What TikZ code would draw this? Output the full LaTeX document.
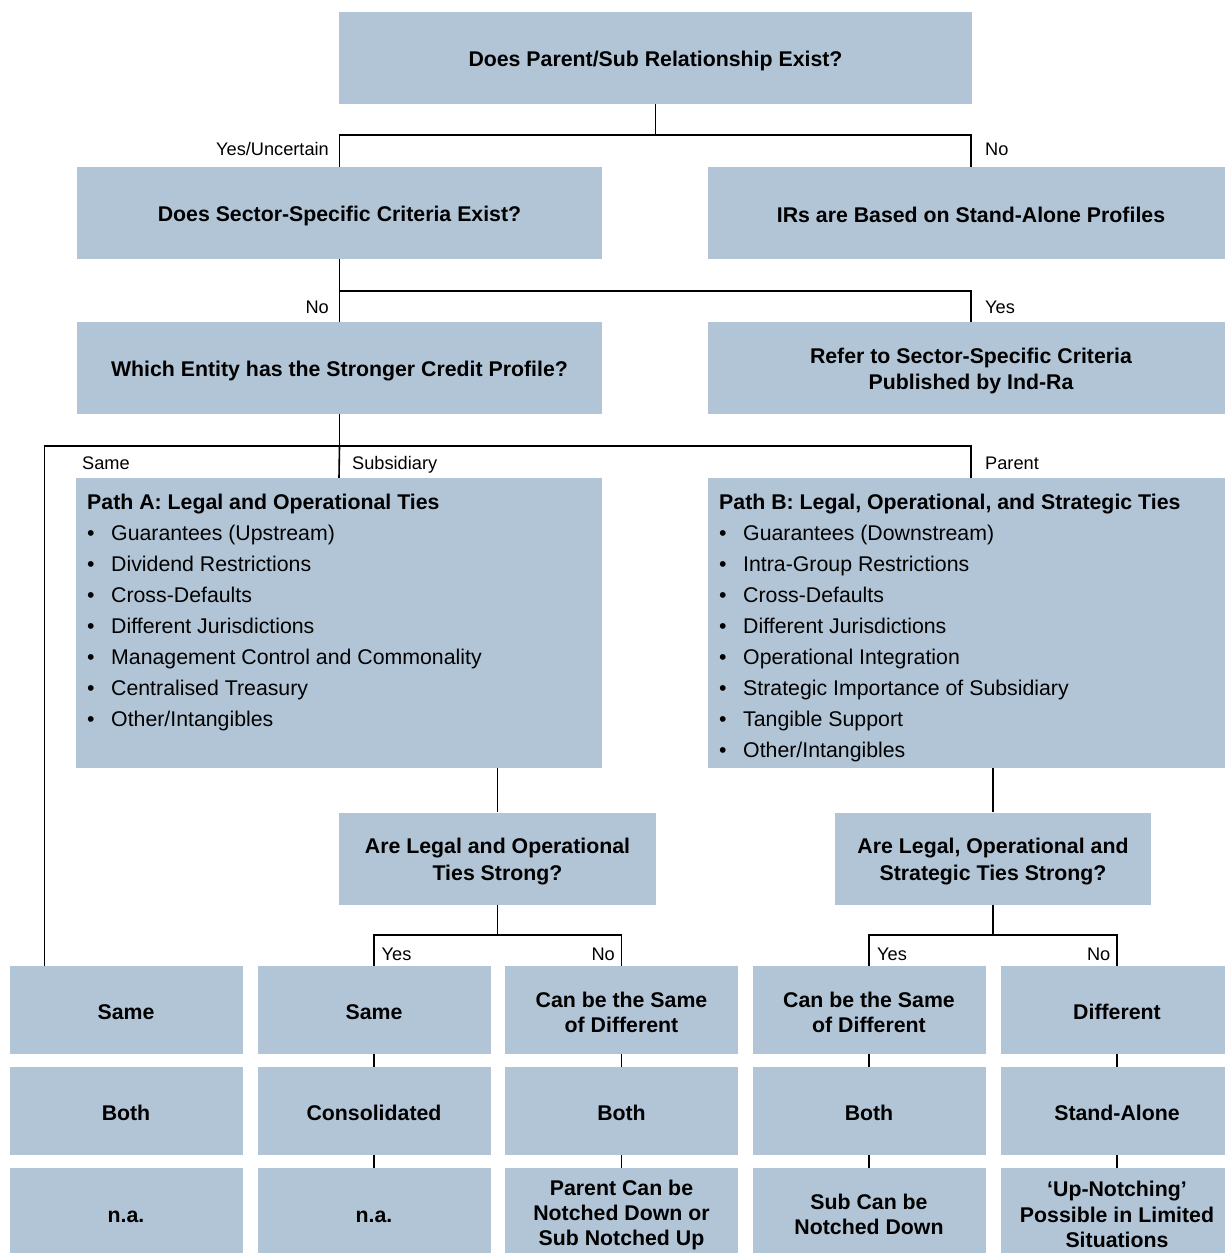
\documentclass[tikz,border=0pt]{standalone}
\usepackage{fontspec}
\setmainfont{Liberation Sans}
\definecolor{boxblue}{RGB}{178,197,214}
\newcommand\sr{\rule[-2pt]{0pt}{23pt}}
\newcommand\itm[1]{\makebox[24pt][l]{•}#1}
\begin{document}
\begin{tikzpicture}[x=1pt,y=-1pt,
  box/.style={rectangle, fill=boxblue, inner sep=0pt, align=center, font=\fontsize{21.3}{25}\selectfont\bfseries},
  lbl/.style={inner sep=0pt, font=\fontsize{18.2}{22}\selectfont},
  conn/.style={draw=black, line width=1.6pt},
  lst/.style={inner sep=0pt, align=left, anchor=north west, font=\fontsize{21.3}{31}\selectfont},
  cell/.style={box, minimum width=233, minimum height=88},
]
\useasboundingbox (0,0) rectangle (1224,1253);

% --- top levels
\node[box, minimum width=633, minimum height=92] (top) at (655.5,58) {\sr Does Parent/Sub Relationship Exist?};
\node[box, minimum width=525, minimum height=92] (sec) at (339.5,213) {\sr Does Sector-Specific Criteria Exist?};
\node[box, minimum width=526, minimum height=92] (irs) at (971,213) {\sr IRs are Based on Stand-Alone Profiles};
\node[box, minimum width=525, minimum height=92] (which) at (339.5,368) {\sr Which Entity has the Stronger Credit Profile?};
\node[box, minimum width=526, minimum height=92] (refer) at (971,368) {\sr Refer to Sector-Specific Criteria\\\sr Published by Ind-Ra};

% --- path boxes
\node[box, minimum width=526, minimum height=290] (pathA) at (339,623) {};
\node[box, minimum width=526, minimum height=290] (pathB) at (971,623) {};
\node[lst] (pathAtext) at (87,493) {\rule{0pt}{16pt}\textbf{Path A: Legal and Operational Ties}\\
  \itm{Guarantees (Upstream)}\\
  \itm{Dividend Restrictions}\\
  \itm{Cross-Defaults}\\
  \itm{Different Jurisdictions}\\
  \itm{Management Control and Commonality}\\
  \itm{Centralised Treasury}\\
  \itm{Other/Intangibles}};
\node[lst] (pathBtext) at (719,493) {\rule{0pt}{16pt}\textbf{Path B: Legal, Operational, and Strategic Ties}\\
  \itm{Guarantees (Downstream)}\\
  \itm{Intra-Group Restrictions}\\
  \itm{Cross-Defaults}\\
  \itm{Different Jurisdictions}\\
  \itm{Operational Integration}\\
  \itm{Strategic Importance of Subsidiary}\\
  \itm{Tangible Support}\\
  \itm{Other/Intangibles}};

% --- question boxes
\node[box, minimum width=317, minimum height=92] (q1) at (497.5,858.5) {\sr Are Legal and Operational\\\sr Ties Strong?};
\node[box, minimum width=316, minimum height=92] (q2) at (993,858.5) {\sr Are Legal, Operational and\\\sr Strategic Ties Strong?};

% --- bottom grid
\node[cell] (c1r1) at (126,1010) {\sr Same};
\node[cell] (c2r1) at (374,1010) {\sr Same};
\node[cell] (c3r1) at (621.5,1010) {\sr Can be the Same\\\sr of Different};
\node[cell] (c4r1) at (869,1010) {\sr Can be the Same\\\sr of Different};
\node[cell] (c5r1) at (1117,1010) {\sr Different};

\node[cell] (c1r2) at (126,1111) {\sr Both};
\node[cell] (c2r2) at (374,1111) {\sr Consolidated};
\node[cell] (c3r2) at (621.5,1111) {\sr Both};
\node[cell] (c4r2) at (869,1111) {\sr Both};
\node[cell] (c5r2) at (1117,1111) {\sr Stand-Alone};

\node[cell, minimum height=89] (c1r3) at (126,1212.5) {\sr n.a.};
\node[cell, minimum height=89] (c2r3) at (374,1212.5) {\sr n.a.};
\node[cell, minimum height=89] (c3r3) at (621.5,1212.5) {\sr Parent Can be\\\sr Notched Down or\\\sr Sub Notched Up};
\node[cell, minimum height=89] (c4r3) at (869,1212.5) {\sr Sub Can be\\\sr Notched Down};
\node[cell, minimum height=89] (c5r3) at (1117,1212.5) {\sr ‘Up-Notching’\\\sr Possible in Limited\\\sr Situations};

% --- connectors
\draw[conn] (top.south) -- ++(0,31) coordinate (j1);
\draw[conn] (sec.north) |- (j1) -| (irs.north);
\draw[conn] (sec.south) -- ++(0,32) coordinate (j2);
\draw[conn] (which.north) |- (j2) -| (refer.north);
\draw[conn] (which.south) -- ++(0,32) coordinate (j3);
\draw[conn] (j3) -- (pathA.north);
\draw[conn] (j3) -| (pathB.north);
\draw[conn] (j3) -| ([xshift=35pt]c1r1.north west);
\draw[conn] (q1.north) -- (q1.north |- pathA.south);
\draw[conn] (q2.north) -- (q2.north |- pathB.south);
\draw[conn] (q1.south) -- ++(0,30) coordinate (j4);
\draw[conn] (c2r1.north) |- (j4) -| (c3r1.north);
\draw[conn] (q2.south) -- ++(0,30) coordinate (j5);
\draw[conn] (c4r1.north) |- (j5) -| (c5r1.north);
\foreach \c in {2,3,4,5}{
  \draw[conn] (c\c r1.south) -- (c\c r2.north);
  \draw[conn] (c\c r2.south) -- (c\c r3.north);
}

% --- labels
\node[lbl, anchor=base east] (lYU) at (329,155) {Yes/Uncertain};
\node[lbl, anchor=base west] (lN1) at (985,155) {No};
\node[lbl, anchor=base east] (lN2) at (329,313) {No};
\node[lbl, anchor=base west] (lY2) at (985,313) {Yes};
\node[lbl, anchor=base west] (lSame) at (82,469) {Same};
\node[lbl, anchor=base west] (lSub) at (352,469) {Subsidiary};
\node[lbl, anchor=base west] (lPar) at (985,469) {Parent};
\node[lbl, anchor=base west] (lY3) at (381.5,960) {Yes};
\node[lbl, anchor=base east] (lN3) at (615,960) {No};
\node[lbl, anchor=base west] (lY4) at (877,960) {Yes};
\node[lbl, anchor=base east] (lN4) at (1110.5,960) {No};
\end{tikzpicture}
\end{document}
